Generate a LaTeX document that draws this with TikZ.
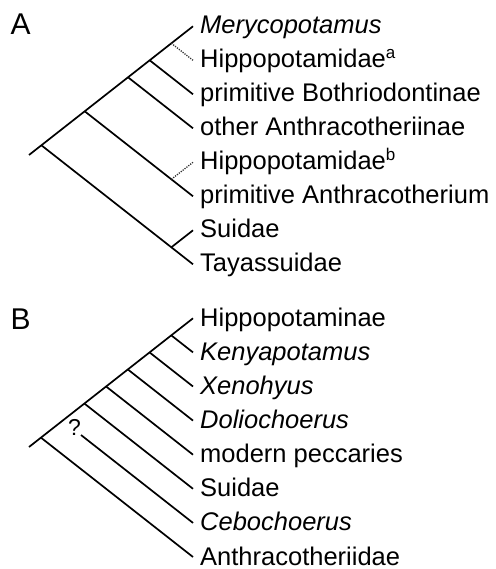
\documentclass[tikz,border=0pt]{standalone}
\usepackage{fontspec}
\setmainfont{Liberation Sans}
\newcommand{\supmark}[1]{\raisebox{8.5pt}{\fontsize{17}{17}\selectfont #1}}
\begin{document}
\begin{tikzpicture}[x=1pt,y=-1pt,
  branch/.style={line width=1.7pt,line cap=butt},
  dotbranch/.style={line width=1.3pt,black!80,dash pattern=on 1.2pt off 1.2pt},
  taxon/.style={anchor=base west,inner sep=0pt,font=\fontsize{25.5}{30}\selectfont},
  panel/.style={anchor=base west,inner sep=0pt,font=\fontsize{30}{32}\selectfont},
  qmark/.style={inner sep=0pt,font=\fontsize{23}{24}\selectfont}]
\useasboundingbox (0,0) rectangle (495,569);
% ---------- Panel A ----------
\node[panel] (pA) at (10.5,35) {A};
\coordinate (rA) at (29,155);
\coordinate (tA1) at (193,26.3);
\coordinate (tA2) at (193,60.3);
\coordinate (tA3) at (193,94.3);
\coordinate (tA4) at (193,128.3);
\coordinate (tA5) at (193,162.3);
\coordinate (tA6) at (193,196.3);
\coordinate (tA7) at (193,230.3);
\coordinate (tA8) at (193,264.3);
\coordinate (nA1) at (41.38,145.28);
\coordinate (nA2) at (84.69,111.28);
\coordinate (nA3) at (128.0,77.27);
\coordinate (nA4) at (149.66,60.28);
\coordinate (nA5) at (171.32,43.28);
\coordinate (nA6) at (171.34,247.3);
\coordinate (nA7) at (171.34,179.3);
\draw[branch] (rA) -- (tA1);
\draw[branch] (nA1) -- (tA8);
\draw[branch] (nA6) -- (tA7);
\draw[branch] (nA2) -- (tA6);
\draw[branch] (nA3) -- (tA4);
\draw[branch] (nA4) -- (tA3);
\draw[dotbranch] (nA5) -- (tA2);
\draw[dotbranch] (nA7) -- (tA5);
\node[taxon] (a1) at (200,33.3) {\itshape Merycopotamus};
\node[taxon] (a2) at (200,67.3) {Hippopotamidae\supmark{a}};
\node[taxon] (a3) at (200,101.3) {primitive Bothriodontinae};
\node[taxon] (a4) at (200,135.3) {other Anthracotheriinae};
\node[taxon] (a5) at (200,169.3) {Hippopotamidae\supmark{b}};
\node[taxon] (a6) at (200,203.3) {primitive Anthracotherium};
\node[taxon] (a7) at (200,237.3) {Suidae};
\node[taxon] (a8) at (200,271.3) {Tayassuidae};
% ---------- Panel B ----------
\node[panel] (pB) at (10.5,329.5) {B};
\coordinate (rB) at (29,447);
\coordinate (tB1) at (193,318.3);
\coordinate (tB2) at (193,352.4);
\coordinate (tB3) at (193,386.5);
\coordinate (tB4) at (193,420.6);
\coordinate (tB5) at (193,454.7);
\coordinate (tB6) at (193,488.8);
\coordinate (tB7) at (193,522.9);
\coordinate (tB8) at (193,557);
\coordinate (nB1) at (40.94,437.63);
\coordinate (nB2) at (84.38,403.53);
\coordinate (nB3) at (106.1,386.48);
\coordinate (nB4) at (127.82,369.43);
\coordinate (nB5) at (149.54,352.38);
\coordinate (nB6) at (171.25,335.33);
\coordinate (cB) at (81,435);
\draw[branch] (rB) -- (tB1);
\draw[branch] (nB1) -- (tB8);
\draw[branch] (cB) -- (tB7);
\draw[branch] (nB2) -- (tB6);
\draw[branch] (nB3) -- (tB5);
\draw[branch] (nB4) -- (tB4);
\draw[branch] (nB5) -- (tB3);
\draw[branch] (nB6) -- (tB2);
\node[qmark] (q) at (74.5,427) {?};
\node[taxon] (b1) at (200,326.3) {Hippopotaminae};
\node[taxon] (b2) at (200,360.4) {\itshape Kenyapotamus};
\node[taxon] (b3) at (200,394.5) {\itshape Xenohyus};
\node[taxon] (b4) at (200,428.6) {\itshape Doliochoerus};
\node[taxon] (b5) at (200,462.7) {modern peccaries};
\node[taxon] (b6) at (200,496.8) {Suidae};
\node[taxon] (b7) at (200,530.9) {\itshape Cebochoerus};
\node[taxon] (b8) at (200,565) {Anthracotheriidae};
\end{tikzpicture}
\end{document}
